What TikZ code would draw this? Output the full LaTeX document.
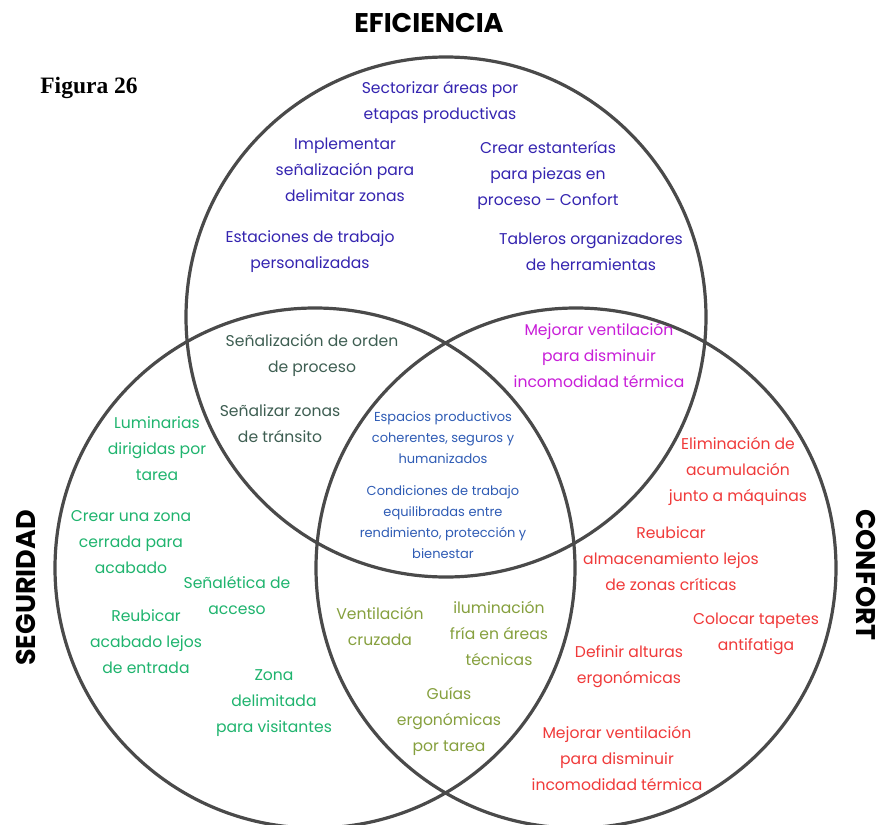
\documentclass[tikz,border=0pt]{standalone}
\usepackage{fontspec}
\setmainfont{Poppins}
\newfontfamily\figfont{Liberation Serif}
\definecolor{circgray}{HTML}{4A4A4A}
\definecolor{cindigo}{HTML}{3424B0}
\definecolor{cslate}{HTML}{3E5E52}
\definecolor{cmag}{HTML}{C81ED8}
\definecolor{cblue}{HTML}{2F5CB5}
\definecolor{cgreen}{HTML}{1FB46E}
\definecolor{cred}{HTML}{F03A3A}
\definecolor{colive}{HTML}{86A03E}
\tikzset{
  circ/.style={draw=circgray, line width=3.2pt},
  txt/.style={align=center, inner sep=0pt, font=\fontsize{15.6}{26}\selectfont},
  smalltxt/.style={align=center, inner sep=0pt, font=\fontsize{13}{21}\selectfont},
  heading/.style={inner sep=0pt, font=\fontsize{27}{30}\selectfont\bfseries},
}
\begin{document}
\begin{tikzpicture}[x=1pt,y=-1pt]
\useasboundingbox (0,0) rectangle (879,825);
\fill[white] (0,0) rectangle (879,825);
% circles
\draw[circ] (446,317) circle (260);
\draw[circ] (315,568) circle (260);
\draw[circ] (576,568) circle (260);
% headings
\node[heading] (hef) at (429,23) {EFICIENCIA};
\node[heading, rotate=90] (hseg) at (26,588) {SEGURIDAD};
\node[heading, rotate=-90] (hcon) at (866,575) {CONFORT};
\node[inner sep=0pt, font=\figfont\fontsize{23.5}{26}\selectfont\bfseries] (fig) at (89,88) {Figura 26};
% top circle
\node[txt, text=cindigo] (t1) at (440,102) {Sectorizar áreas por\\etapas productivas};
\node[txt, text=cindigo] (t2) at (345,170) {Implementar\\señalización para\\delimitar zonas};
\node[txt, text=cindigo] (t3) at (548,175) {Crear estanterías\\para piezas en\\proceso -- Confort};
\node[txt, text=cindigo] (t4) at (310,252) {Estaciones de trabajo\\personalizadas};
\node[txt, text=cindigo] (t5) at (591,252) {Tableros organizadores\\de herramientas};
% top-left intersection
\node[txt, text=cslate] (s1) at (312,355) {Señalización de orden\\de proceso};
\node[txt, text=cslate] (s2) at (280,424) {Señalizar zonas\\de tránsito};
% top-right intersection
\node[txt, text=cmag] (m1) at (599,355) {Mejorar ventilación\\para disminuir\\incomodidad térmica};
% centre
\node[smalltxt, text=cblue] (c1) at (443,438) {Espacios productivos\\coherentes, seguros y\\humanizados};
\node[smalltxt, text=cblue] (c2) at (443,522) {Condiciones de trabajo\\equilibradas entre\\rendimiento, protección y\\bienestar};
% left circle
\node[txt, text=cgreen] (g1) at (157,449) {Luminarias\\dirigidas por\\tarea};
\node[txt, text=cgreen] (g2) at (131,542) {Crear una zona\\cerrada para\\acabado};
\node[txt, text=cgreen] (g3) at (237,595) {Señalética de\\acceso};
\node[txt, text=cgreen] (g4) at (146,642) {Reubicar\\acabado lejos\\de entrada};
\node[txt, text=cgreen] (g5) at (274,703) {Zona\\delimitada\\para visitantes};
% bottom intersection
\node[txt, text=colive] (o1) at (380,626) {Ventilación\\cruzada};
\node[txt, text=colive] (o2) at (499,633) {iluminación\\fría en áreas\\técnicas};
\node[txt, text=colive] (o3) at (449,721) {Guías\\ergonómicas\\por tarea};
% right circle
\node[txt, text=cred] (r1) at (738,471) {Eliminación de\\acumulación\\junto a máquinas};
\node[txt, text=cred] (r2) at (671,559) {Reubicar\\almacenamiento lejos\\de zonas críticas};
\node[txt, text=cred] (r3) at (756,634) {Colocar tapetes\\antifatiga};
\node[txt, text=cred] (r4) at (629,667) {Definir alturas\\ergonómicas};
\node[txt, text=cred] (r5) at (617,758) {Mejorar ventilación\\para disminuir\\incomodidad térmica};
\end{tikzpicture}
\end{document}
